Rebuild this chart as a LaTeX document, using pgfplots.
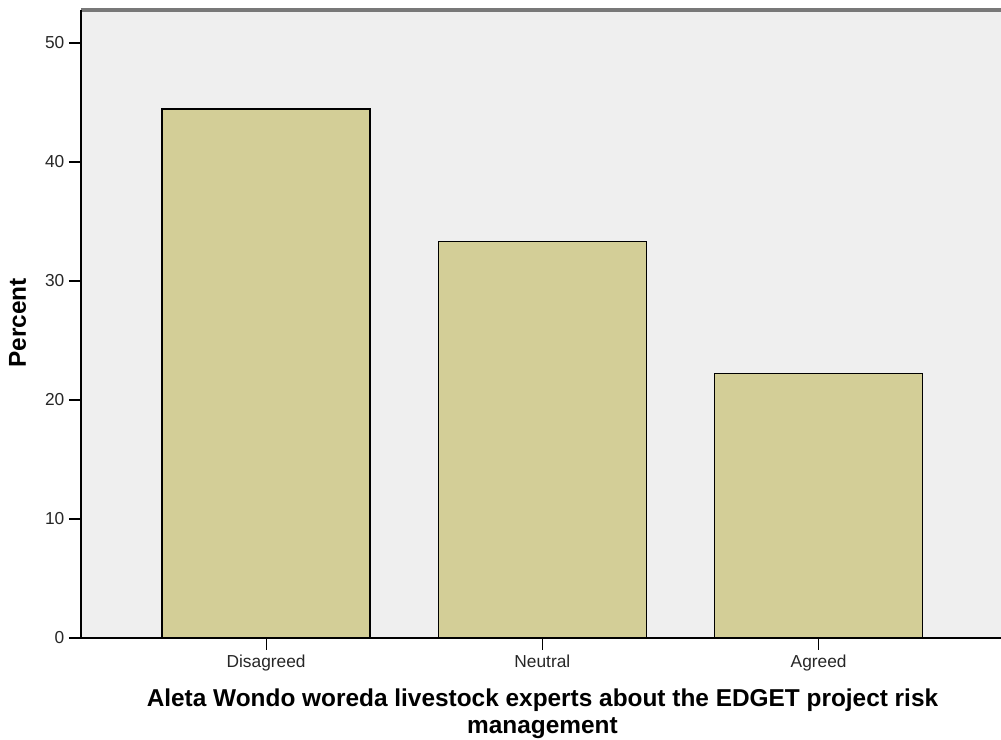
\documentclass[border=0pt]{standalone}
\usepackage{pgfplots}
\pgfplotsset{compat=1.18}
\usepackage{fontspec}
\setmainfont{Liberation Sans}
\definecolor{bg}{RGB}{239,239,239}
\definecolor{barfill}{RGB}{211,206,151}
\definecolor{topline}{RGB}{120,120,120}
\begin{document}
\begin{tikzpicture}
\useasboundingbox (0,0) rectangle (750.75pt,555pt);
\begin{axis}[
  at={(60.75pt,76.5pt)}, anchor=south west,
  scale only axis, width=690pt, height=471pt,
  xmin=-0.67, xmax=2.66, ymin=0, ymax=52.77,
  axis x line*=bottom, axis y line*=left,
  axis line style={black, line width=1.1pt, -},
  axis background/.style={fill=bg},
  xtick={0,1,2}, xticklabels={Disagreed,Neutral,Agreed},
  ytick={0,10,20,30,40,50},
  tick align=outside, major tick length=9pt,
  tick style={black, line width=0.9pt},
  ticklabel style={font=\fontsize{13}{15}\selectfont, text=black!85},
  /pgf/number format/assume math mode=true,
  ybar, bar width=156pt,
  xlabel={Aleta Wondo woreda livestock experts about the EDGET project risk\\management},
  xlabel style={at={(axis description cs:0.5016,-0.1513)}, anchor=base, align=center,
    font=\fontsize{18.3}{20}\selectfont\bfseries},
  ylabel={Percent},
  ylabel style={at={(axis description cs:-0.0598,0.5016)}, anchor=base, rotate=0,
    font=\fontsize{18.3}{20}\selectfont\bfseries},
  clip=false,
]
\addplot[fill=barfill, draw=black, line width=1pt] coordinates {(0,44.44) (1,33.33) (2,22.22)};
\draw[topline, line width=2.4pt] (rel axis cs:0,1) -- (rel axis cs:1,1);
\draw[black, line width=1.1pt] (rel axis cs:0,0) -- (rel axis cs:0,1);
\end{axis}
\end{tikzpicture}
\end{document}
